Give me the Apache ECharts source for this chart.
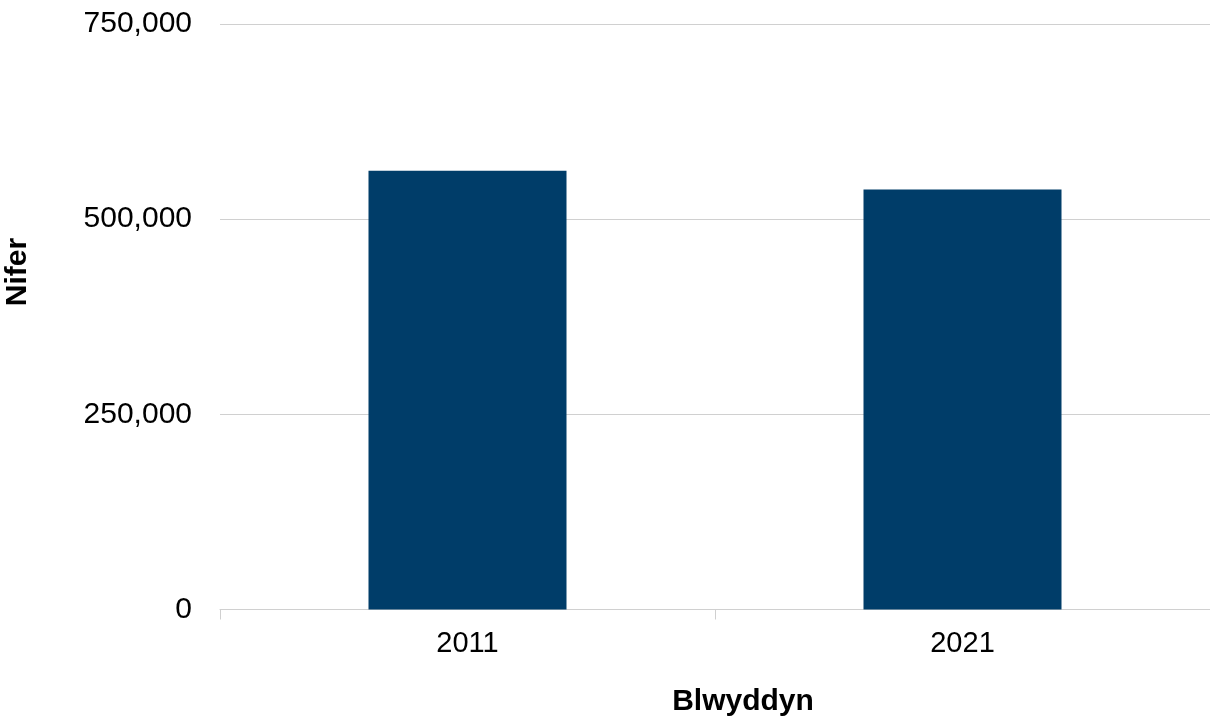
<!DOCTYPE html>
<html>
<head>
<meta charset="utf-8">
<script src="https://cdn.jsdelivr.net/npm/echarts@6/dist/echarts.min.js"></script>
<style>html,body{margin:0;padding:0;background:#fff;}#c{width:1210px;height:719px;}</style>
</head>
<body>
<div id="c"></div>
<script>
const categories = ['2011', '2021'];
const values = [562000, 538000];
const yTicks = [0, 250000, 500000, 750000];
const xTitle = 'Blwyddyn';
const yTitle = 'Nifer';

const chart = echarts.init(document.getElementById('c'));
chart.setOption({
  animation: false,
  grid: { left: 220, right: 0, top: 24, bottom: 109.5 },
  graphic: [
    {
      type: 'text', x: 743, y: 702,
      style: { text: xTitle, font: 'bold 30px "Liberation Sans"', fill: '#000', align: 'center', verticalAlign: 'middle' }
    },
    {
      type: 'text', x: 18, y: 272, rotation: Math.PI / 2,
      style: { text: yTitle, font: 'bold 30px "Liberation Sans"', fill: '#000', align: 'center', verticalAlign: 'middle' }
    }
  ],
  xAxis: {
    type: 'category',
    data: categories,
    axisLine: { lineStyle: { color: '#d0d0d0', width: 1 } },
    axisTick: { show: true, length: 10, lineStyle: { color: '#d0d0d0' } },
    axisLabel: { fontFamily: 'Liberation Sans', fontSize: 29, color: '#000', margin: 20 }
  },
  yAxis: {
    type: 'value',
    min: 0, max: 750000, interval: 250000,
    axisLine: { show: false },
    axisTick: { show: false },
    splitLine: { lineStyle: { color: '#d0d0d0', width: 1 } },
    axisLabel: {
      fontFamily: 'Liberation Sans', fontSize: 30, color: '#000', margin: 28,
      formatter: v => yTicks.includes(v) ? v.toLocaleString('en-GB') : ''
    }
  },
  series: [{
    type: 'bar',
    data: values,
    barWidth: '40%',
    itemStyle: { color: '#003d69' }
  }]
});
</script>
</body>
</html>
